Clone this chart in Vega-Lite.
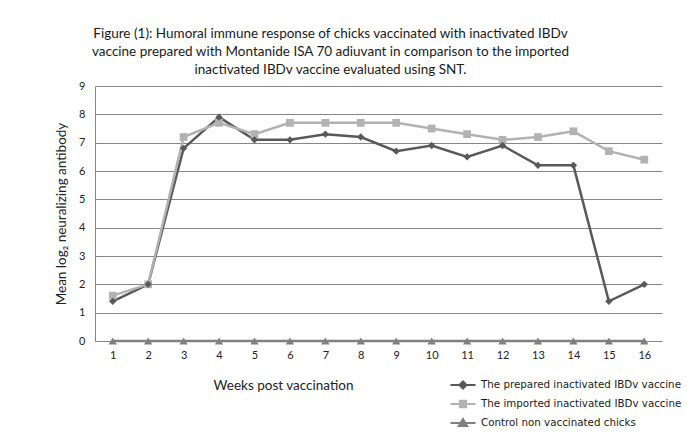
{
  "$schema": "https://vega.github.io/schema/vega-lite/v6.json",
  "width": 567,
  "height": 255,
  "autosize": {"type": "none"},
  "padding": {"left": 95, "top": 86, "right": 25, "bottom": 98},
  "background": "white",
  "title": {
    "text": [
      "Figure (1): Humoral immune  response  of chicks vaccinated with inactivated IBDv",
      "vaccine prepared  with  Montanide  ISA 70 adiuvant in comparison to the imported",
      "inactivated IBDv vaccine  evaluated using SNT."
    ],
    "anchor": "middle",
    "frame": "group",
    "dx": -48,
    "offset": 4,
    "font": "Lato",
    "fontSize": 13.5,
    "fontWeight": "normal",
    "color": "#1a1a1a",
    "lineHeight": 18
  },
  "config": {
    "view": {"stroke": null},
    "axis": {"labelFont": "Lato", "titleFont": "Lato", "labelColor": "#222", "titleColor": "#222", "labelFontSize": 11, "titleFontSize": 13.5, "titleFontWeight": "normal"}
  },
  "data": {
    "values": [
      {"week": 1, "series": "The prepared inactivated IBDv vaccine", "value": 1.4},
      {"week": 2, "series": "The prepared inactivated IBDv vaccine", "value": 2.0},
      {"week": 3, "series": "The prepared inactivated IBDv vaccine", "value": 6.8},
      {"week": 4, "series": "The prepared inactivated IBDv vaccine", "value": 7.9},
      {"week": 5, "series": "The prepared inactivated IBDv vaccine", "value": 7.1},
      {"week": 6, "series": "The prepared inactivated IBDv vaccine", "value": 7.1},
      {"week": 7, "series": "The prepared inactivated IBDv vaccine", "value": 7.3},
      {"week": 8, "series": "The prepared inactivated IBDv vaccine", "value": 7.2},
      {"week": 9, "series": "The prepared inactivated IBDv vaccine", "value": 6.7},
      {"week": 10, "series": "The prepared inactivated IBDv vaccine", "value": 6.9},
      {"week": 11, "series": "The prepared inactivated IBDv vaccine", "value": 6.5},
      {"week": 12, "series": "The prepared inactivated IBDv vaccine", "value": 6.9},
      {"week": 13, "series": "The prepared inactivated IBDv vaccine", "value": 6.2},
      {"week": 14, "series": "The prepared inactivated IBDv vaccine", "value": 6.2},
      {"week": 15, "series": "The prepared inactivated IBDv vaccine", "value": 1.4},
      {"week": 16, "series": "The prepared inactivated IBDv vaccine", "value": 2.0},
      {"week": 1, "series": "The imported inactivated IBDv vaccine", "value": 1.6},
      {"week": 2, "series": "The imported inactivated IBDv vaccine", "value": 2.0},
      {"week": 3, "series": "The imported inactivated IBDv vaccine", "value": 7.2},
      {"week": 4, "series": "The imported inactivated IBDv vaccine", "value": 7.7},
      {"week": 5, "series": "The imported inactivated IBDv vaccine", "value": 7.3},
      {"week": 6, "series": "The imported inactivated IBDv vaccine", "value": 7.7},
      {"week": 7, "series": "The imported inactivated IBDv vaccine", "value": 7.7},
      {"week": 8, "series": "The imported inactivated IBDv vaccine", "value": 7.7},
      {"week": 9, "series": "The imported inactivated IBDv vaccine", "value": 7.7},
      {"week": 10, "series": "The imported inactivated IBDv vaccine", "value": 7.5},
      {"week": 11, "series": "The imported inactivated IBDv vaccine", "value": 7.3},
      {"week": 12, "series": "The imported inactivated IBDv vaccine", "value": 7.1},
      {"week": 13, "series": "The imported inactivated IBDv vaccine", "value": 7.2},
      {"week": 14, "series": "The imported inactivated IBDv vaccine", "value": 7.4},
      {"week": 15, "series": "The imported inactivated IBDv vaccine", "value": 6.7},
      {"week": 16, "series": "The imported inactivated IBDv vaccine", "value": 6.4},
      {"week": 1, "series": "Control non vaccinated chicks", "value": 0},
      {"week": 2, "series": "Control non vaccinated chicks", "value": 0},
      {"week": 3, "series": "Control non vaccinated chicks", "value": 0},
      {"week": 4, "series": "Control non vaccinated chicks", "value": 0},
      {"week": 5, "series": "Control non vaccinated chicks", "value": 0},
      {"week": 6, "series": "Control non vaccinated chicks", "value": 0},
      {"week": 7, "series": "Control non vaccinated chicks", "value": 0},
      {"week": 8, "series": "Control non vaccinated chicks", "value": 0},
      {"week": 9, "series": "Control non vaccinated chicks", "value": 0},
      {"week": 10, "series": "Control non vaccinated chicks", "value": 0},
      {"week": 11, "series": "Control non vaccinated chicks", "value": 0},
      {"week": 12, "series": "Control non vaccinated chicks", "value": 0},
      {"week": 13, "series": "Control non vaccinated chicks", "value": 0},
      {"week": 14, "series": "Control non vaccinated chicks", "value": 0},
      {"week": 15, "series": "Control non vaccinated chicks", "value": 0},
      {"week": 16, "series": "Control non vaccinated chicks", "value": 0}
    ]
  },
  "encoding": {
    "x": {
      "field": "week", "type": "ordinal",
      "scale": {"type": "point", "padding": 0.5},
      "axis": {
        "labelAngle": 0, "ticks": false, "domainColor": "#868686", "labelPadding": 8,
        "title": "Weeks post vaccination", "titleX": 188, "titleY": 37, "titleAlign": "center"
      }
    },
    "y": {
      "field": "value", "type": "quantitative",
      "scale": {"domain": [0, 9], "nice": false},
      "axis": {
        "values": [0, 1, 2, 3, 4, 5, 6, 7, 8, 9], "ticks": false, "gridColor": "#868686", "gridOpacity": 1,
        "domainColor": "#868686", "labelPadding": 10, "titlePadding": 10,
        "title": "Mean log₂ neuralizing antibody"
      }
    },
    "color": {
      "field": "series", "type": "nominal",
      "scale": {
        "domain": ["The prepared inactivated IBDv vaccine", "The imported inactivated IBDv vaccine", "Control non vaccinated chicks"],
        "range": ["#595959", "#b2b2b2", "#808080"]
      },
      "legend": {
        "title": null, "orient": "none", "legendX": 357, "legendY": 288,
        "labelFont": "DejaVu Sans", "labelFontSize": 10.3, "labelColor": "#1a1a1a", "labelLimit": 0,
        "symbolSize": 361, "labelOffset": 7, "rowPadding": 0,
        "encode": {
          "symbols": {
            "update": {
              "shape": {"signal": "datum.value === 'The prepared inactivated IBDv vaccine' ? 'M-1.32,0H1.32M0,-0.36L0.36,0L0,0.36L-0.36,0Z' : datum.value === 'The imported inactivated IBDv vaccine' ? 'M-1.32,0H1.32M-0.32,-0.32H0.32V0.32H-0.32Z' : 'M-1.32,0H1.32M0,-0.4L0.42,0.3H-0.42Z'"},
              "fill": {"signal": "scale('color', datum.value)"},
              "stroke": {"signal": "scale('color', datum.value)"},
              "strokeWidth": {"value": 2.2},
              "opacity": {"value": 1}
            }
          }
        }
      }
    }
  },
  "layer": [
    {
      "mark": {"type": "line", "strokeWidth": 2.5},
      "encoding": {
        "order": {"field": "week", "type": "quantitative"},
        "detail": {"field": "series"}
      }
    },
    {
      "transform": [{"filter": "datum.series === 'Control non vaccinated chicks'"}],
      "mark": {"type": "point", "filled": true, "opacity": 1, "shape": "triangle-up", "size": 70}
    },
    {
      "transform": [{"filter": "datum.series === 'The imported inactivated IBDv vaccine'"}],
      "mark": {"type": "point", "filled": true, "opacity": 1, "shape": "square", "size": 60}
    },
    {
      "transform": [{"filter": "datum.series === 'The prepared inactivated IBDv vaccine'"}],
      "mark": {"type": "point", "filled": true, "opacity": 1, "shape": "diamond", "size": 55}
    }
  ]
}
